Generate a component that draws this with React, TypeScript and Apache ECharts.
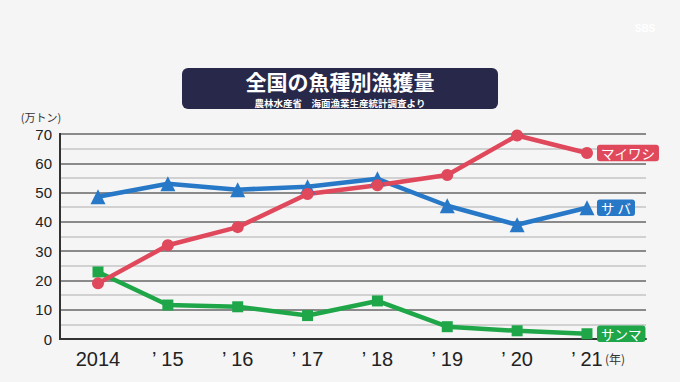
import React, { useEffect, useRef } from "react";
import * as echarts from "echarts";

const years = ["2014", "’ 15", "’ 16", "’ 17", "’ 18", "’ 19", "’ 20", "’ 21"];
const sardine = [19, 32, 38.2, 49.5, 52.5, 56, 69.5, 63.5];
const mackerel = [48.6, 53, 51, 52, 54.7, 45.5, 39, 44.8];
const saury = [22.9, 11.6, 11, 8, 13, 4.2, 2.8, 1.8];
const yTicks = [0, 10, 20, 30, 40, 50, 60, 70];

const JP = '"Noto Sans CJK JP", "Noto Sans", sans-serif';
const NUM = '"Liberation Sans", Arial, sans-serif';

export default function App() {
  const ref = useRef<HTMLDivElement>(null);
  useEffect(() => {
    if (!ref.current) return;
    const chart = echarts.init(ref.current, undefined, { renderer: "svg" });
    const pts = (arr: number[]) => arr.map((v, i) => [i, v]);
    const mk = (name: string, data: number[], color: string, symbol: string, size: number) => ({
      type: "line",
      name,
      data: pts(data),
      symbol,
      symbolSize: size,
      showAllSymbol: true,
      itemStyle: { color },
      lineStyle: { color, width: 4.5 },
      endLabel: {
        show: true,
        formatter: name,
        color: "#fff",
        backgroundColor: color,
        borderRadius: 3,
        padding: [2, 4, 1, 4],
        fontSize: 13.5,
        fontFamily: JP,
        distance: 10,
      },
      z: 3,
    });
    chart.setOption({
      animation: false,
      backgroundColor: "#f5f5f5",
      grid: { left: 60, right: 34, top: 134, bottom: 43 },
      xAxis: {
        type: "value",
        min: -0.544,
        max: 7.845,
        splitLine: { show: false },
        axisTick: { show: false },
        axisLine: { show: true, onZero: false, lineStyle: { color: "#333", width: 2 } },
        axisLabel: {
          customValues: years.map((_, i) => i),
          formatter: (v: number) => years[Math.round(v)] ?? "",
          color: "#222",
          fontSize: 20,
          fontFamily: NUM,
          margin: 10,
        },
      },
      yAxis: {
        type: "value",
        min: 0,
        max: 70,
        interval: 5,
        axisLine: { show: true, onZero: false, lineStyle: { color: "#333", width: 2 } },
        axisTick: { show: false },
        axisLabel: {
          formatter: (v: number) => (yTicks.includes(v) ? String(v) : ""),
          color: "#222",
          fontSize: 15,
          fontFamily: NUM,
          margin: 8,
        },
        splitLine: { show: true, lineStyle: { color: ["#666", "#c4c4c4"], width: 1.5 } },
      },
      series: [
        mk("サンマ", saury, "#1fa648", "rect", 11),
        mk("サ バ", mackerel, "#2878c8", "triangle", 15),
        mk("マイワシ", sardine, "#e0485c", "circle", 12),
      ],
      graphic: [
        {
          type: "rect",
          z: 100,
          shape: { x: 59, y: 133, width: 2, height: 207 },
          style: { fill: "#333" },
        },
        {
          type: "rect",
          shape: { x: 182, y: 68, width: 316, height: 41, r: 6 },
          style: { fill: "#27284a" },
        },
        {
          type: "text",
          x: 340,
          y: 81,
          style: {
            text: "全国の魚種別漁獲量",
            fill: "#fff",
            font: `bold 21px ${JP}`,
            align: "center",
            verticalAlign: "middle",
          },
        },
        {
          type: "text",
          x: 340,
          y: 103,
          style: {
            text: "農林水産省　海面漁業生産統計調査より",
            fill: "#fff",
            font: `bold 9.5px ${JP}`,
            align: "center",
            verticalAlign: "middle",
          },
        },
        {
          type: "text",
          x: 41,
          y: 117,
          style: {
            text: "(万トン)",
            fill: "#333",
            font: `11px ${JP}`,
            align: "center",
            verticalAlign: "middle",
          },
        },
        {
          type: "text",
          x: 605,
          y: 358,
          style: {
            text: "(年)",
            fill: "#333",
            font: `12px ${JP}`,
            align: "left",
            verticalAlign: "middle",
          },
        },
        {
          type: "text",
          x: 645,
          y: 28,
          style: {
            text: "SBS",
            fill: "#ffffff",
            font: `bold 10px ${NUM}`,
            align: "center",
            verticalAlign: "middle",
          },
        },
      ],
    });
    return () => chart.dispose();
  }, []);
  return (
    <div
      ref={ref}
      style={{ position: "absolute", left: 0, top: 0, width: 680, height: 382 }}
    />
  );
}
